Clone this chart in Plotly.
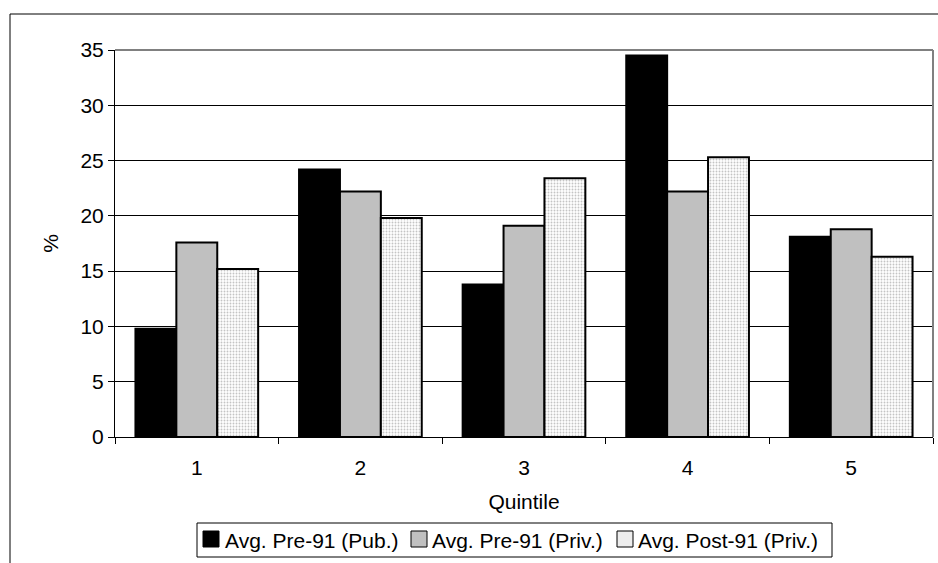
import plotly.graph_objects as go

quintiles = ["1", "2", "3", "4", "5"]
series_names = ["Avg. Pre-91 (Pub.)", "Avg. Pre-91 (Priv.)", "Avg. Post-91 (Priv.)"]
pre91_pub = [9.8, 24.2, 13.8, 34.5, 18.1]
pre91_priv = [17.6, 22.2, 19.1, 22.2, 18.8]
post91_priv = [15.2, 19.8, 23.4, 25.3, 16.3]
y_ticks = [0, 5, 10, 15, 20, 25, 30, 35]

FONT = "Liberation Sans, Arial, sans-serif"
FS = 21

fig = go.Figure()
fig.add_trace(go.Bar(
    x=quintiles, y=pre91_pub, name=series_names[0],
    marker=dict(color="#000000", line=dict(color="#000000", width=2)),
))
fig.add_trace(go.Bar(
    x=quintiles, y=pre91_priv, name=series_names[1],
    marker=dict(color="#c0c0c0", line=dict(color="#000000", width=2)),
))
fig.add_trace(go.Bar(
    x=quintiles, y=post91_priv, name=series_names[2],
    marker=dict(color="#ffffff", line=dict(color="#000000", width=2),
                pattern=dict(shape=".", fgcolor="#c4c4c4", bgcolor="#ffffff",
                             size=3, solidity=0.3, fillmode="replace")),
))

W, H = 938, 563
L, R, T, B = 115, 5, 50, 126
pw, ph = W - L - R, H - T - B

def px_x(p):
    return (p - L) / pw

def px_y(p):
    return (H - B - p) / ph

shapes = [
    dict(type="rect", xref="paper", yref="paper",
         x0=px_x(10), x1=px_x(945), y0=px_y(570), y1=px_y(14),
         line=dict(color="#000000", width=1), fillcolor="rgba(0,0,0,0)",
         layer="below"),
    dict(type="line", xref="paper", yref="paper",
         x0=0, x1=1, y0=1, y1=1, line=dict(color="#808080", width=2)),
    dict(type="line", xref="paper", yref="paper",
         x0=1, x1=1, y0=0, y1=1, line=dict(color="#808080", width=2)),
    # legend box
    dict(type="rect", xref="paper", yref="paper",
         x0=px_x(197), x1=px_x(832), y0=px_y(557), y1=px_y(523),
         line=dict(color="#000000", width=1), fillcolor="#ffffff"),
]
annotations = []
legend_fills = ["#000000", "#c0c0c0", "#ededed"]
sym_x = [203, 411, 617]
txt_x = [223, 430, 636]
for i, name in enumerate(series_names):
    shapes.append(dict(type="rect", xref="paper", yref="paper",
                       x0=px_x(sym_x[i]), x1=px_x(sym_x[i] + 16),
                       y0=px_y(547), y1=px_y(531),
                       line=dict(color="#000000", width=1),
                       fillcolor=legend_fills[i]))
    annotations.append(dict(text=name, xref="paper", yref="paper",
                            x=px_x(txt_x[i]), y=px_y(540),
                            xanchor="left", yanchor="middle", showarrow=False,
                            font=dict(family=FONT, size=FS, color="#000000")))

fig.update_layout(
    width=W, height=H,
    margin=dict(l=L, r=R, t=T, b=B, autoexpand=False),
    paper_bgcolor="#ffffff", plot_bgcolor="#ffffff",
    font=dict(family=FONT, size=FS, color="#000000"),
    barmode="group", bargap=0.25, bargroupgap=0,
    showlegend=False,
    xaxis=dict(
        type="category", range=[-0.5, 4.5],
        showgrid=False, showline=True, linecolor="#000000", linewidth=1,
        ticks="outside", tickson="boundaries", ticklen=6, tickcolor="#000000",
        ticklabelstandoff=12,
        title=dict(text="Quintile", standoff=16, font=dict(size=FS)),
        tickfont=dict(size=FS), zeroline=False,
    ),
    yaxis=dict(
        range=[0, 35], tickvals=y_ticks,
        showgrid=True, gridcolor="#000000", gridwidth=1,
        showline=True, linecolor="#000000", linewidth=1,
        ticks="outside", ticklen=6, tickcolor="#000000",
        title=dict(text="%", standoff=16, font=dict(size=FS)),
        tickfont=dict(size=FS), zeroline=False,
    ),
    shapes=shapes,
    annotations=annotations,
)

fig.write_html("out.html")
